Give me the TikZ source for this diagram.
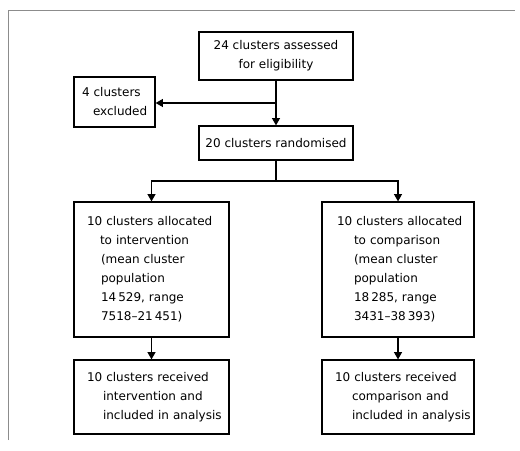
\documentclass[tikz,border=0pt]{standalone}
\usepackage{fontspec}
\setmainfont{DejaVu Sans}
\usetikzlibrary{arrows.meta}
\newlength\px
\setlength\px{0.75pt}
\newcommand\fs{\fontsize{9pt}{14.3pt}\selectfont}
\newcommand\ind[1]{\hspace*{#1\px}}
\newenvironment{lines}{\renewcommand\arraystretch{1}\begin{tabular}{@{}l@{}}}{\end{tabular}}
\begin{document}
\begin{tikzpicture}[x=0.75pt,y=-0.75pt,
  box/.style={draw, line width=0.9pt, inner sep=0pt, font=\fs},
  conn/.style={line width=0.9pt},
  arr/.style={conn, -{Triangle[width=6pt,length=5.5pt]}},
  frame/.style={draw=black!45, line width=0.6pt}]
\useasboundingbox (0,0) rectangle (520,450);
\draw[frame] (8,440) -- (8,10) -- (515,10);
\node[box, minimum width=154\px, minimum height=48\px, align=center] (assess) at (276,56)
  {24 clusters assessed\\for eligibility};
\node[box, minimum width=81\px, minimum height=50\px, text width=65\px, align=left] (excl) at (114.5,102)
  {\begin{lines}4 clusters\\\ind{11}excluded\end{lines}};
\node[box, minimum width=154\px, minimum height=34\px, align=center] (rand) at (276,143)
  {20 clusters randomised};
\node[box, minimum width=155\px, minimum height=135\px, text width=129\px, align=left] (la) at (151.5,269.5)
  {\begin{lines}10 clusters allocated\\\ind{13}to intervention\\\ind{14}(mean cluster\\\ind{14}population\\\ind{14}14\,529, range\\\ind{14}7518--21\,451)\end{lines}};
\node[box, minimum width=152\px, minimum height=135\px, text width=122\px, align=left] (ra) at (398,269.5)
  {\begin{lines}10 clusters allocated\\\ind{17}to comparison\\\ind{17}(mean cluster\\\ind{17}population\\\ind{17}18\,285, range\\\ind{17}3431--38\,393)\end{lines}};
\node[box, minimum width=155\px, minimum height=74\px, text width=129\px, align=left] (lr) at (151.5,397)
  {\begin{lines}10 clusters received\\\ind{16}intervention and\\\ind{16}included in analysis\end{lines}};
\node[box, minimum width=152\px, minimum height=74\px, text width=126\px, align=left] (rr) at (398,397)
  {\begin{lines}10 clusters received\\\ind{17}comparison and\\\ind{17}included in analysis\end{lines}};
\coordinate (b1) at (276,103);
\coordinate (b2) at (276,181);
\draw[arr] (assess) -- (rand);
\draw[arr] (b1) -- (excl.east |- b1);
\draw[conn] (rand) -- (b2);
\draw[arr] (b2) -| (la.north);
\draw[arr] (b2) -| (ra.north);
\draw[arr] (la) -- (lr);
\draw[arr] (ra) -- (rr);
\end{tikzpicture}
\end{document}
